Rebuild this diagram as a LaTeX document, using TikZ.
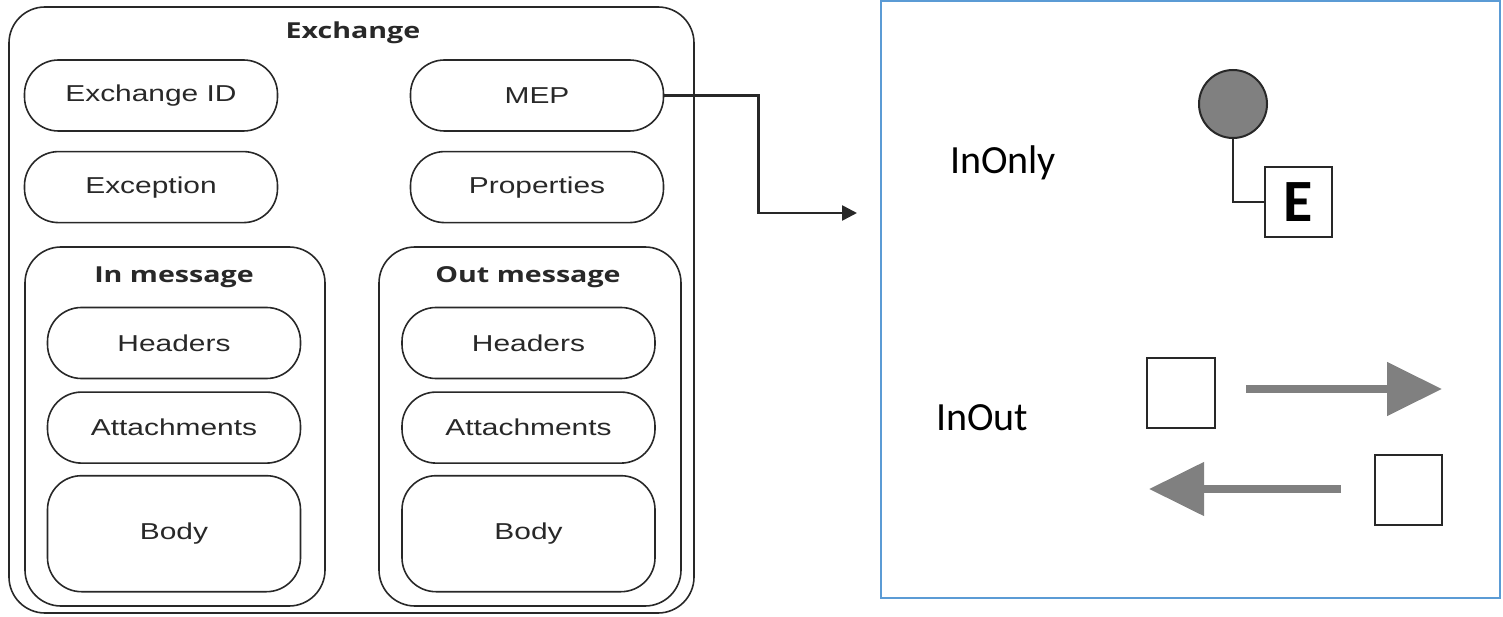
\documentclass[tikz,border=0pt]{standalone}
\usepackage{fontspec}
\setmainfont{Liberation Sans}
\newfontfamily\titlefont{Open Sans}
\newfontfamily\calfont{Carlito}
\usetikzlibrary{positioning,arrows.meta}

\definecolor{panelblue}{RGB}{91,155,213}
\definecolor{ink}{RGB}{40,40,40}
\definecolor{tipgray}{RGB}{128,128,128}

\newcommand{\widen}[1]{\scalebox{1.3}[1]{#1}}

\begin{document}
\begin{tikzpicture}[
        x=1pt, y=-1pt,
        field/.style={draw=ink, line width=1.6pt, rounded corners=34pt, minimum width=253pt, minimum height=71pt, inner sep=0pt, text=ink, font=\fontsize{23}{27}\selectfont},
        group/.style={draw=ink, line width=1.6pt, rounded corners=36pt, inner sep=0pt},
        heading/.style={text=ink, inner sep=0pt, font=\titlefont\bfseries\fontsize{22}{26}\selectfont},
        msgbox/.style={draw=ink, line width=2.5pt, minimum width=68pt, minimum height=70pt, inner sep=0pt},
        flow/.style={draw=tipgray, line width=8pt, -{Triangle[length=55pt,width=52pt]}},
        mepname/.style={inner sep=0pt, font=\calfont\fontsize{40}{48}\selectfont}
    ]
        \useasboundingbox (0,0) rectangle (1503,617);

        % exchange
        \node[group, minimum width=685pt, minimum height=606pt] (exchange) at (351.5,310) {};
        \node[heading] (exchtitle) at (353,33) {\widen{Exchange}};
        \node[field] (exid) at (151,95.5) {\widen{Exchange ID}};
        \node[field] (mep) at (537,95.5) {\widen{MEP}};
        \node[field] (exc) [below=19pt of exid] {\widen{Exception}};
        \node[field] (prop) [below=19pt of mep] {\widen{Properties}};

        % messages
        \node[group, minimum width=300pt, minimum height=359pt] (inmsg) at (175,426.5) {};
        \node[group, minimum width=302pt, minimum height=359pt] (outmsg) at (530,426.5) {};
        \node[heading] (intitle) at (174,277) {\widen{In message}};
        \node[heading] (outtitle) at (528,277) {\widen{Out message}};

        \node[field] (inhead) at (174,343) {\widen{Headers}};
        \node[field] (inatt) [below=12pt of inhead] {\widen{Attachments}};
        \node[field, minimum height=116pt] (inbody) [below=11pt of inatt] {\widen{Body}};
        \node[field] (outhead) at (528.5,343) {\widen{Headers}};
        \node[field] (outatt) [below=12pt of outhead] {\widen{Attachments}};
        \node[field, minimum height=116pt] (outbody) [below=11pt of outatt] {\widen{Body}};

        % MEP panel
        \node[draw=panelblue, line width=1.5pt, minimum width=619pt, minimum height=597pt, inner sep=0pt] (mepanel) at (1190.5,299.5) {};
        \coordinate (mepend) at (857,213);
        \draw[ink, line width=2.6pt, -{Triangle[length=15pt,width=15pt]}] (mep.east) -- ++(94,0) |- (mepend);

        \node[mepname] (inonly) at (1003,163) {InOnly};
        \node[mepname] (inout) at (982,418) {InOut};

        \node[circle, draw=ink, fill=tipgray, line width=2pt, minimum size=68pt, inner sep=0pt] (consumer) at (1233,104) {};
        \node[msgbox, minimum width=67pt, font=\calfont\bfseries\fontsize{60}{60}\selectfont] (ebox) at (1298.5,202) {E};
        \draw[ink, line width=2.5pt] (consumer.south) |- (ebox.west);

        \node[msgbox] (sendbox) at (1181,393) {};
        \node[msgbox, minimum width=67pt] (replybox) at (1408.5,490) {};
        \coordinate (reqstart) at (1246,389);
        \coordinate (reqend) at (1442,389);
        \coordinate (repstart) at (1341,489);
        \coordinate (repend) at (1149,489);
        \draw[flow] (reqstart) -- (reqend);
        \draw[flow] (repstart) -- (repend);
    \end{tikzpicture}
\end{document}
